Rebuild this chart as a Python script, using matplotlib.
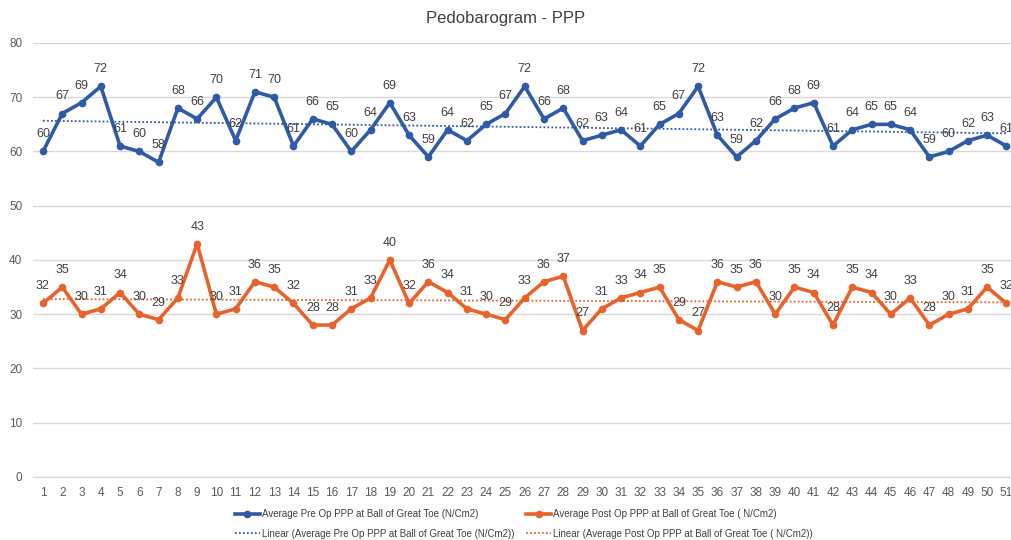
import matplotlib
matplotlib.use("Agg")
import matplotlib.pyplot as plt
import numpy as np

plt.rcParams['font.family'] = ['Liberation Sans Narrow', 'Liberation Sans', 'DejaVu Sans']

x_labels = list(range(1, 52))
pre_op = [60, 67, 69, 72, 61, 60, 58, 68, 66, 70, 62, 71, 70, 61, 66, 65, 60, 64, 69, 63,
          59, 64, 62, 65, 67, 72, 66, 68, 62, 63, 64, 61, 65, 67, 72, 63, 59, 62, 66, 68,
          69, 61, 64, 65, 65, 64, 59, 60, 62, 63, 61]
post_op = [32, 35, 30, 31, 34, 30, 29, 33, 43, 30, 31, 36, 35, 32, 28, 28, 31, 33, 40, 32,
           36, 34, 31, 30, 29, 33, 36, 37, 27, 31, 33, 34, 35, 29, 27, 36, 35, 36, 30, 35,
           34, 28, 35, 34, 30, 33, 28, 30, 31, 35, 32]
y_ticks = [0, 10, 20, 30, 40, 50, 60, 70, 80]

title = "Pedobarogram - PPP"
lbl_pre = "Average Pre Op PPP at Ball of Great Toe (N/Cm2)"
lbl_post = "Average Post Op PPP at Ball of Great Toe ( N/Cm2)"
lbl_lin_pre = "Linear (Average Pre Op PPP at Ball of Great Toe (N/Cm2))"
lbl_lin_post = "Linear (Average Post Op PPP at Ball of Great Toe ( N/Cm2))"

blue = '#2f5aa6'
orange = '#e8632b'
txt = '#404040'

fig = plt.figure(figsize=(10.11, 5.40), dpi=100)
ax = fig.add_axes([0.033, 0.1167, 0.972, 0.8037])

xs = np.array(x_labels, dtype=float)
pre = np.array(pre_op, dtype=float)
post = np.array(post_op, dtype=float)

# trend lines
cp = np.polyfit(xs, pre, 1)
cq = np.polyfit(xs, post, 1)
lp, = ax.plot(xs, np.polyval(cp, xs), linestyle=(0, (1, 1.2)), color=blue, lw=1.3, label=lbl_lin_pre)
lq, = ax.plot(xs, np.polyval(cq, xs), linestyle=(0, (1, 1.2)), color=orange, lw=1.3, label=lbl_lin_post)

hp, = ax.plot(xs, pre, '-o', color=blue, lw=2.6, ms=4.5, label=lbl_pre, zorder=3)
hq, = ax.plot(xs, post, '-o', color=orange, lw=2.6, ms=4.5, label=lbl_post, zorder=3)

for xv, yv in zip(xs, pre):
    ax.annotate(f"{int(yv)}", (xv, yv), xytext=(0, 8), textcoords='offset points',
                ha='center', va='bottom', fontsize=9, color=txt)
for xv, yv in zip(xs, post):
    ax.annotate(f"{int(yv)}", (xv, yv), xytext=(0, 8), textcoords='offset points',
                ha='center', va='bottom', fontsize=9, color=txt)

ax.set_xlim(0.5, 51.5)
ax.set_ylim(0, 80)
ax.set_yticks(y_ticks)
ax.set_xticks(xs)
ax.set_xticklabels([str(v) for v in x_labels])
ax.tick_params(axis='both', length=0, labelsize=8.5, colors='#595959')
ax.tick_params(axis='y', pad=8)
ax.tick_params(axis='x', pad=7)
ax.grid(axis='y', color='#d9d9d9', lw=1)
ax.set_axisbelow(True)
for s in ['top', 'right', 'left']:
    ax.spines[s].set_visible(False)
ax.spines['bottom'].set_color('#d9d9d9')

fig.text(0.5, 0.965, title, ha='center', va='center', fontsize=12, color='#404040')

fig.legend(handles=[hp, lp, hq, lq], ncol=2, loc='center', bbox_to_anchor=(0.518, 0.03),
           frameon=False, fontsize=7, labelcolor=txt, handlelength=2.6, columnspacing=1.2,
           handletextpad=0.2, labelspacing=1.0, borderpad=0)

fig.savefig("out.png", dpi=100)
